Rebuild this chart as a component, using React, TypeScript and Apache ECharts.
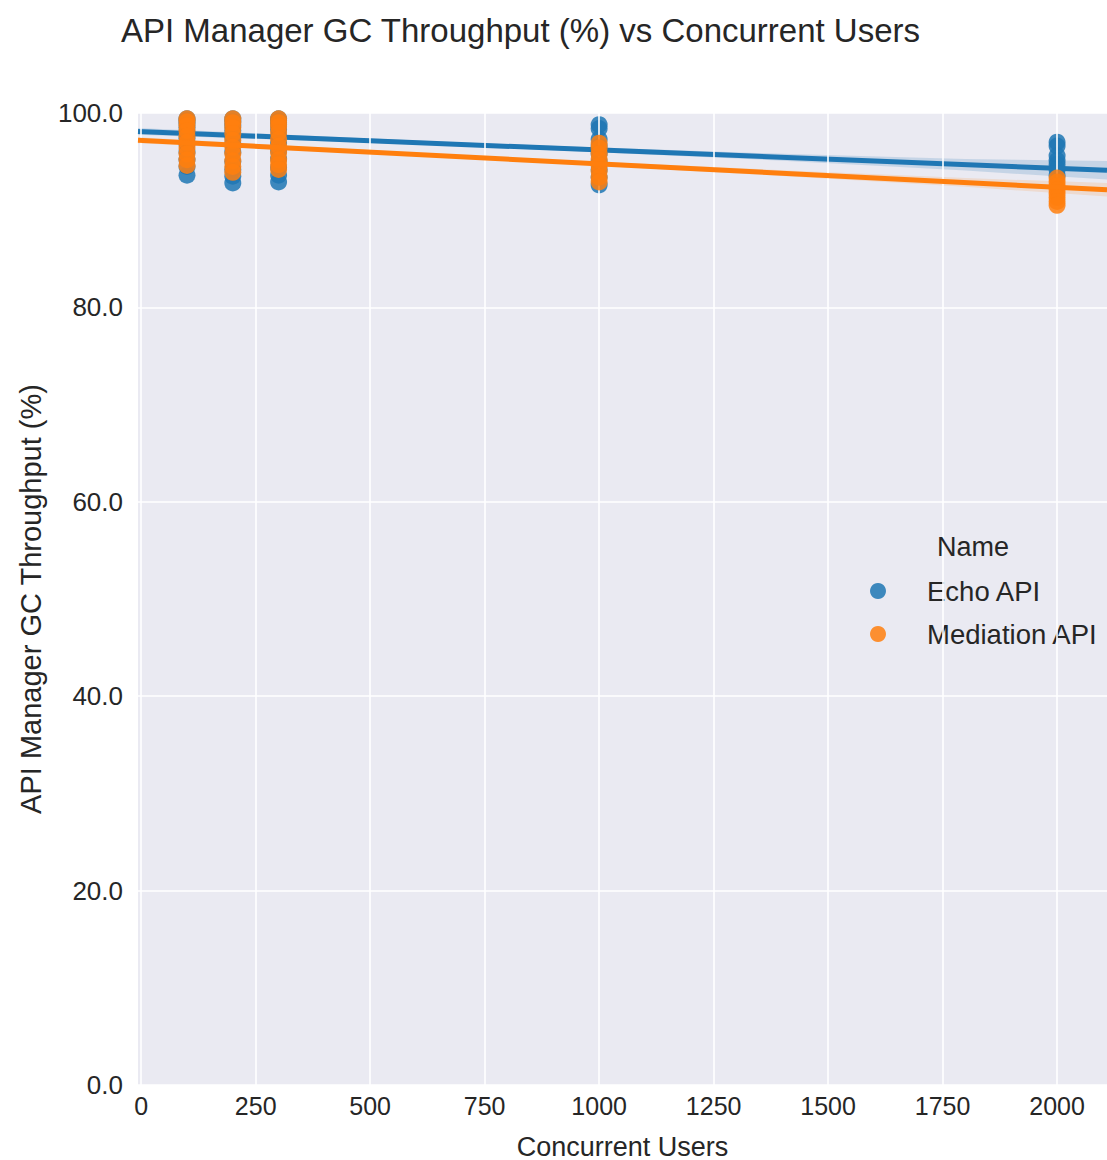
import React, { useEffect, useRef } from "react";
import * as echarts from "echarts";

const titleText = "API Manager GC Throughput (%) vs Concurrent Users";
const xName = "Concurrent Users";
const yName = "API Manager GC Throughput (%)";
const legendTitle = "Name";
const seriesNames = ["Echo API", "Mediation API"];

const xMin = -7;
const xMax = 2109;
const xTicks = [0, 250, 500, 750, 1000, 1250, 1500, 1750, 2000];
const yTicks = [0, 20, 40, 60, 80, 100];

// scatter values per concurrent-user level
const users = [100, 200, 300, 1000, 2000];
const echoValues = [
  [99.4, 99.2, 98.9, 98.5, 98.0, 97.4, 96.8, 96.0, 95.2, 94.5, 93.6],
  [99.4, 99.1, 98.7, 98.2, 97.5, 96.8, 96.0, 95.0, 94.2, 93.5, 92.8],
  [99.4, 99.2, 98.8, 98.3, 97.6, 96.9, 96.1, 95.3, 94.4, 93.6, 92.9],
  [98.8, 98.4, 97.3, 96.6, 95.8, 95.0, 94.2, 93.4, 92.6],
  [97.0, 96.6, 95.6, 95.1, 94.7, 94.2, 93.6],
];
const mediationValues = [
  [99.4, 99.1, 98.7, 98.2, 97.6, 97.0, 96.4, 95.8, 95.2, 94.6],
  [99.4, 99.0, 98.5, 97.9, 97.2, 96.5, 95.8, 95.1, 94.5, 93.9],
  [99.4, 99.0, 98.6, 98.0, 97.3, 96.6, 95.9, 95.2, 94.7, 94.2],
  [96.9, 96.4, 95.8, 95.2, 94.6, 94.0, 93.4, 92.9],
  [93.3, 92.9, 92.5, 92.1, 91.7, 91.3, 90.9, 90.5],
];

// regression fit lines (values at xMin and xMax)
const fitX = [xMin, xMax];
const echoFit = [98.1, 94.1];
const mediationFit = [97.2, 92.1];

// confidence bands
const bandX = [xMin, 700, 1400, 1800, xMax];
const echoBandLow = [97.75, 96.6, 95.1, 94.08, 93.15];
const echoBandHigh = [98.45, 96.96, 95.8, 95.28, 95.05];
const mediationBandLow = [96.9, 95.35, 93.52, 92.4, 91.4];
const mediationBandHigh = [97.5, 95.65, 94.12, 93.3, 92.8];

const colors = ["#1f77b4", "#ff7f0e"];
const bandColors = ["rgba(31,119,180,0.18)", "rgba(255,127,14,0.15)"];
const textColor = "#262626";
const FONT = "'Liberation Sans', Arial, sans-serif";

function scatterData(vals: number[][]) {
  const out: number[][] = [];
  users.forEach((u, i) => vals[i].forEach((v) => out.push([u, v])));
  return out;
}

export default function App() {
  const ref = useRef<HTMLDivElement>(null);
  useEffect(() => {
    if (!ref.current) return;
    const chart = echarts.init(ref.current, null, { renderer: "svg" });

    const bandSeries = (idx: number, low: number[], high: number[], z: number) => ({
      name: seriesNames[idx] + " band",
      type: "custom",
      silent: true,
      z,
      data: [[bandX[0], low[0]]],
      renderItem: (_params: any, api: any) => {
        const upper = bandX.map((x, i) => api.coord([x, high[i]]));
        const lower = bandX.map((x, i) => api.coord([x, low[i]])).reverse();
        return {
          type: "polygon",
          shape: { points: upper.concat(lower) },
          style: { fill: bandColors[idx] },
        };
      },
    });

    chart.setOption({
      animation: false,
      backgroundColor: "#ffffff",
      textStyle: { fontFamily: FONT },
      title: [
        {
          text: titleText,
          left: 116,
          top: 9,
          textStyle: { fontSize: 33, fontWeight: "normal", color: textColor, fontFamily: FONT },
        },
        {
          text: legendTitle,
          left: 932,
          top: 528,
          textStyle: { fontSize: 27, fontWeight: "normal", color: textColor, fontFamily: FONT },
        },
      ],
      legend: {
        data: seriesNames,
        orient: "vertical",
        left: 865,
        top: 572,
        itemWidth: 16,
        itemHeight: 16,
        itemGap: 15,
        icon: "circle",
        textStyle: { fontSize: 27.5, color: textColor, fontFamily: FONT, padding: [0, 0, 0, 36] },
        selectedMode: false,
      },
      graphic: [
        {
          type: "rect",
          z: -10,
          silent: true,
          shape: { x: 138, y: 113, width: 969, height: 972 },
          style: { fill: "#eaeaf2" },
        },
      ],
      grid: {
        left: 138,
        top: 113,
        width: 969,
        height: 972,
        containLabel: false,
        outerBoundsMode: "none",
      },
      xAxis: {
        type: "value",
        min: xMin,
        max: xMax,
        name: xName,
        nameLocation: "middle",
        nameGap: 48,
        nameTextStyle: { fontSize: 27, color: textColor, fontFamily: FONT },
        axisLine: { show: false },
        axisTick: { show: false },
        splitLine: { show: false },
        axisLabel: {
          customValues: xTicks,
          fontSize: 25,
          color: textColor,
          margin: 8,
          fontFamily: FONT,
          formatter: (v: number) => String(v),
        },
      },
      yAxis: {
        type: "value",
        min: 0,
        max: 100,
        interval: 20,
        name: yName,
        nameLocation: "middle",
        nameGap: 93,
        nameTextStyle: { fontSize: 29, color: textColor, fontFamily: FONT },
        axisLine: { show: false },
        axisTick: { show: false },
        splitLine: { show: true, lineStyle: { color: "#ffffff", width: 1.6 } },
        axisLabel: {
          fontSize: 26,
          color: textColor,
          margin: 15,
          fontFamily: FONT,
          formatter: (v: number) => v.toFixed(1),
          customValues: yTicks,
        },
      },
      series: [
        {
          name: "grid",
          type: "scatter",
          data: [],
          silent: true,
          z: 0,
          markLine: {
            silent: true,
            symbol: "none",
            label: { show: false },
            lineStyle: { color: "#ffffff", width: 1.6, type: "solid" },
            data: xTicks.map((v) => ({ xAxis: v })),
          },
        },
        bandSeries(0, echoBandLow, echoBandHigh, 1),
        {
          name: seriesNames[0],
          type: "scatter",
          data: scatterData(echoValues),
          symbolSize: 17,
          itemStyle: { color: colors[0], opacity: 0.85 },
          clip: false,
          z: 2,
        },
        {
          name: seriesNames[0] + " fit",
          type: "line",
          data: fitX.map((x, i) => [x, echoFit[i]]),
          symbol: "none",
          lineStyle: { color: colors[0], width: 5 },
          silent: true,
          z: 3,
        },
        bandSeries(1, mediationBandLow, mediationBandHigh, 4),
        {
          name: seriesNames[1],
          type: "scatter",
          data: scatterData(mediationValues),
          symbolSize: 17,
          itemStyle: { color: colors[1], opacity: 0.85 },
          clip: false,
          z: 5,
        },
        {
          name: seriesNames[1] + " fit",
          type: "line",
          data: fitX.map((x, i) => [x, mediationFit[i]]),
          symbol: "none",
          lineStyle: { color: colors[1], width: 5 },
          silent: true,
          z: 6,
        },
      ],
    });
    return () => chart.dispose();
  }, []);

  return (
    <div
      ref={ref}
      style={{ position: "fixed", left: 0, top: 0, width: 1107, height: 1160 }}
    />
  );
}
